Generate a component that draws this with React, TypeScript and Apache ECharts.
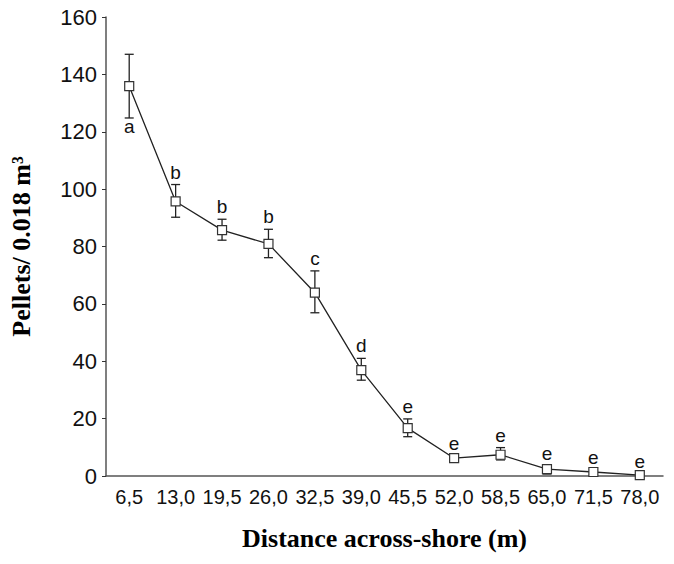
import React, { useEffect, useRef } from "react";
import * as echarts from "echarts";

const categories = ["6,5", "13,0", "19,5", "26,0", "32,5", "39,0", "45,5", "52,0", "58,5", "65,0", "71,5", "78,0"];
const means = [135.9, 95.7, 85.7, 80.9, 63.9, 36.9, 16.7, 6.2, 7.4, 2.4, 1.4, 0.3];
const upper = [147.0, 101.6, 89.5, 86.0, 71.5, 41.0, 19.9, 7.0, 9.9, 3.6, 2.2, 0.6];
const lower = [124.8, 90.2, 82.2, 76.1, 56.9, 33.4, 13.7, 5.4, 5.6, 0.7, 0.6, 0.0];
const letters = ["a", "b", "b", "b", "c", "d", "e", "e", "e", "e", "e", "e"];
const letterBelow = [true, false, false, false, false, false, false, false, false, false, false, false];
const yTicks = { min: 0, max: 160, interval: 20 };

export default function App() {
  const ref = useRef<HTMLDivElement>(null);
  useEffect(() => {
    if (!ref.current) return;
    const chart = echarts.init(ref.current, undefined, { renderer: "svg" });
    const errData = categories.map((_, i) => [i, lower[i], upper[i], letters[i], letterBelow[i] ? 1 : 0]);
    chart.setOption({
      animation: false,
      backgroundColor: "#fff",
      grid: { left: 106, right: 11, top: 17, bottom: 88 },
      xAxis: {
        type: "category",
        data: categories,
        boundaryGap: true,
        name: "Distance across-shore (m)",
        nameLocation: "middle",
        nameGap: 49,
        nameTextStyle: { fontFamily: "Liberation Serif", fontWeight: "bold", fontSize: 26, color: "#000" },
        axisLine: { lineStyle: { color: "#555", width: 1.5 } },
        axisTick: { alignWithLabel: true, inside: true, length: 4, lineStyle: { color: "#333" } },
        axisLabel: { fontFamily: "Liberation Sans", fontSize: 20, color: "#111", margin: 11, interval: 0 },
        splitLine: { show: false },
      },
      yAxis: {
        type: "value",
        min: yTicks.min,
        max: yTicks.max,
        interval: yTicks.interval,
        name: "Pellets/ 0.018 m³",
        nameLocation: "middle",
        nameGap: 72,
        nameRotate: 90,
        nameTextStyle: { fontFamily: "Liberation Serif", fontWeight: "bold", fontSize: 26, color: "#000" },
        axisLine: { show: true, lineStyle: { color: "#555", width: 1.5 } },
        axisTick: { show: true, length: 4, lineStyle: { color: "#333" } },
        axisLabel: { fontFamily: "Liberation Sans", fontSize: 22, color: "#111", margin: 9 },
        splitLine: { show: false },
      },
      series: [
        {
          type: "custom",
          data: errData,
          z: 1,
          renderItem: (params: any, api: any) => {
            const x = api.value(0);
            const lo = api.coord([x, api.value(1)]);
            const hi = api.coord([x, api.value(2)]);
            const letter = api.value(3);
            const below = api.value(4) === 1;
            const cx = hi[0];
            const cap = 4.5;
            const style = { stroke: "#222", lineWidth: 1.3 };
            return {
              type: "group",
              children: [
                { type: "line", shape: { x1: cx, y1: hi[1], x2: cx, y2: lo[1] }, style },
                { type: "line", shape: { x1: cx - cap, y1: hi[1], x2: cx + cap, y2: hi[1] }, style },
                { type: "line", shape: { x1: cx - cap, y1: lo[1], x2: cx + cap, y2: lo[1] }, style },
                {
                  type: "text",
                  style: {
                    text: String(letter),
                    x: cx,
                    y: below ? lo[1] + 9 : hi[1] - 3,
                    align: "center",
                    verticalAlign: below ? "middle" : "bottom",
                    fontFamily: "Liberation Sans",
                    fontSize: 19,
                    fill: "#111",
                  },
                },
              ],
            };
          },
        },
        {
          type: "line",
          data: means,
          z: 3,
          symbol: "rect",
          symbolSize: 9,
          showAllSymbol: true,
          lineStyle: { color: "#222", width: 1.3 },
          itemStyle: { color: "#fff", borderColor: "#333", borderWidth: 1.2 },
        },
      ],
    });
    return () => chart.dispose();
  }, []);
  return <div ref={ref} style={{ width: 674, height: 564, position: "absolute", left: 0, top: 0 }} />;
}
